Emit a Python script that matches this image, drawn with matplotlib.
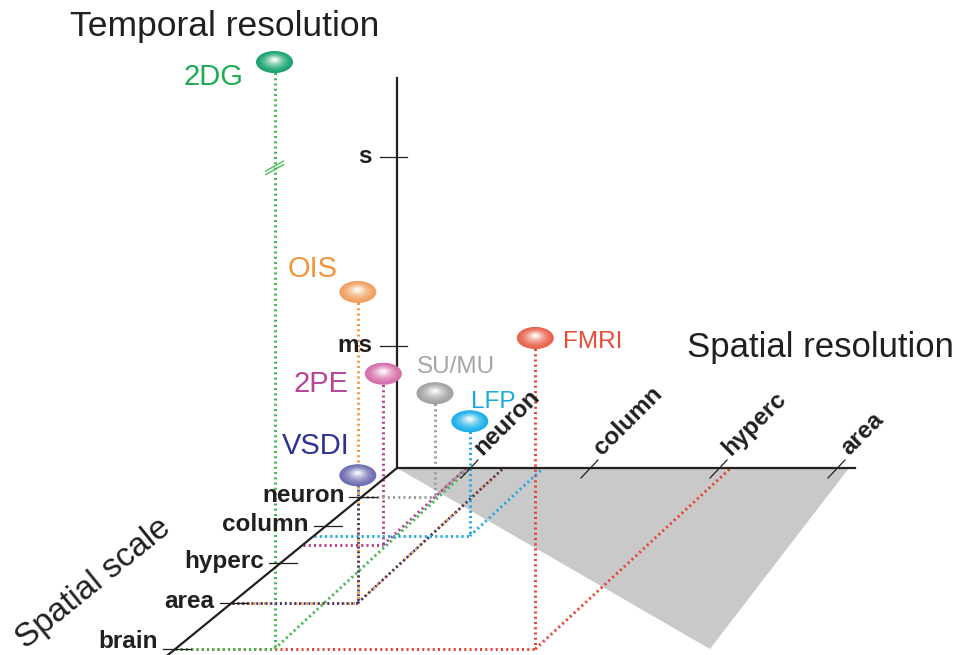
import numpy as np
import matplotlib
matplotlib.use('Agg')
import matplotlib.pyplot as plt
from matplotlib.patches import Ellipse, Polygon
from matplotlib.colors import to_rgb

plt.rcParams['font.family'] = ['Liberation Sans', 'DejaVu Sans']

#---------------------------- DATA (axis levels) ----------------------------
# spatial resolution axis: levels 1..4, spatial scale axis: levels 1..5, temporal: levels 1..2
res_labels = ['neuron', 'column', 'hyperc', 'area']
scale_labels = ['neuron', 'column', 'hyperc', 'area', 'brain']
time_labels = ['ms', 's']

techniques = ['2DG', 'OIS', '2PE', 'VSDI', 'SU/MU', 'LFP', 'FMRI']
res_level = [1.0, 1.28, 0.95, 1.28, 0.95, 1.61, 3.1]
scale_level = [5.0, 4.0, 2.51, 4.0, 1.0, 2.27, 5.0]
time_level = [3.46, 2.0, 1.26, 1.03, 0.85, 0.94, 2.0]

line_colors = ['#3dba4e', '#f39a3c', '#b83c94', '#2f2c7e', '#9b9b9b', '#1aa9e1', '#e8402f']
text_colors = ['#1dac52', '#f5943a', '#b8459a', '#2e3192', '#a5a5a5', '#1aa9e1', '#e84a36']
bubble_colors = ['#1aa36e', '#f0a060', '#d66faa', '#6d6db2', '#a3a3a3', '#1ab0ea', '#e8644c']

#---------------------------- LAYOUT / PROJECTION ----------------------------
ORIGIN = (397, 468)
RES_PX = [0, 73, 193, 322, 440, 560]        # px along horizontal axis for levels 0..5
SCALE_PX = [0, 29, 58, 95, 135, 181, 235]   # px depth for levels 0..6
TIME_PX = [0, 122, 311, 500, 689]           # px height for levels 0..4
K_AXIS = 1.225    # x shift per px depth, drawn scale axis
K_FLOOR = 1.08    # x shift per px depth, floor guide lines
INK = '#231f20'

# label placement relative to bubble: (dx, dy, ha, fontsize)
label_pos = {'2DG': (-31, 23, 'right', 21), 'OIS': (-20, -15, 'right', 21),
             '2PE': (-35, 18, 'right', 21), 'VSDI': (-8, -21, 'right', 21),
             'SU/MU': (-18, -20, 'left', 17.5), 'LFP': (1, -13, 'left', 17.5),
             'FMRI': (28, 10, 'left', 17.5)}


def rpx(r):
    return np.interp(r, range(len(RES_PX)), RES_PX)


def spx(s):
    return np.interp(s, range(len(SCALE_PX)), SCALE_PX)


def tpx(t):
    return np.interp(t, range(len(TIME_PX)), TIME_PX)


def floor_pt(r, s):
    return ORIGIN[0] + rpx(r) - K_FLOOR * spx(s), ORIGIN[1] + spx(s)


def res_axis_pt(r):
    return ORIGIN[0] + rpx(r), ORIGIN[1]


def scale_axis_pt(s):
    return ORIGIN[0] - K_AXIS * spx(s), ORIGIN[1] + spx(s)


def bubble(ax, x, y, color, w=37, h=22, n=24):
    base = np.array(to_rgb(color))
    for i in range(n):
        t = i / (n - 1)
        a = 0.92 * t ** 1.6
        c = base * (1 - a) + a
        ax.add_patch(Ellipse((x, y - 2.5 * t), w * (1 - 0.88 * t), h * (1 - 0.88 * t),
                             facecolor=c, edgecolor='none', zorder=6))


fig = plt.figure(figsize=(9.6, 6.55), dpi=100)
ax = fig.add_axes([0, 0, 1, 1])
ax.set_xlim(0, 960)
ax.set_ylim(655, 0)
ax.axis('off')

# grey floor shading
shade_r = [0, 4.1, 4.57]
shade_s = [0, 0, 5]
shade = [floor_pt(r, s) for r, s in zip(shade_r, shade_s)]
ax.add_patch(Polygon(shade, closed=True, facecolor='#c9c9c9', edgecolor='none', zorder=1))

# dotted guide lines of each technique
dots = (0, (0.7, 1.1))
draw_z = {'FMRI': 2.0}
for i, name in enumerate(techniques):
    fx, fy = floor_pt(res_level[i], scale_level[i])
    by = fy - tpx(time_level[i])
    sx, sy = scale_axis_pt(scale_level[i])
    rx, ry = res_axis_pt(res_level[i])
    z = draw_z.get(name, 2.1 + 0.01 * i)
    lw = 1.9 if name == 'VSDI' else 2.1
    kw = dict(color=line_colors[i], lw=lw, linestyle=dots, zorder=z)
    ax.plot([fx, fx], [by, fy], **kw)
    ax.plot([sx, fx], [sy, fy], **kw)
    ax.plot([fx, rx], [fy, ry], **kw)
    bubble(ax, fx, by, bubble_colors[i])
    dx, dy, ha, fs = label_pos[name]
    ax.text(fx + dx, by + dy, name, color=text_colors[i], fontsize=fs,
            ha=ha, va='baseline', zorder=7)
    if name == '2DG':
        # axis break mark on the 2DG line
        yb = fy - tpx(2.9)
        for off in (-1.8, 1.8):
            ax.plot([fx - 9, fx + 9], [yb + off + 5, yb + off - 5], color=line_colors[i],
                    lw=0.9, zorder=z + 0.01)

# axes
ax.plot([ORIGIN[0], ORIGIN[0]], [ORIGIN[1], ORIGIN[1] - tpx(2.42)], color=INK, lw=1.6, zorder=4)
ex, ey = res_axis_pt(4.15)
ax.plot([ORIGIN[0], ex], [ORIGIN[1], ey], color=INK, lw=1.6, zorder=4)
dx_, dy_ = scale_axis_pt(5.15)
ax.plot([ORIGIN[0], dx_], [ORIGIN[1], dy_], color=INK, lw=1.6, zorder=4)

# spatial resolution ticks
for k, lab in enumerate(res_labels):
    x, y = res_axis_pt(k + 1)
    ax.plot([x - 9, x + 8], [y + 10, y - 8], color=INK, lw=0.9, zorder=4)
    ax.text(x + 12, y - 12, lab, rotation=45, rotation_mode='anchor', ha='left',
            va='baseline', fontsize=17.5, fontweight='bold', color=INK, zorder=7)

# spatial scale ticks
for k, lab in enumerate(scale_labels):
    x, y = scale_axis_pt(k + 1)
    ax.plot([x - 12, x + 16], [y, y], color=INK, lw=0.9, zorder=4)
    ax.text(x - 17, min(y + 5, 648), lab, ha='right', va='baseline', fontsize=17.5,
            fontweight='bold', color=INK, zorder=7)

# temporal ticks
for k, lab in enumerate(time_labels):
    y = ORIGIN[1] - tpx(k + 1)
    ax.plot([ORIGIN[0] - 17, ORIGIN[0] + 10], [y, y], color=INK, lw=0.9, zorder=4)
    ax.text(ORIGIN[0] - 25, y + 6, lab, ha='right', va='baseline', fontsize=17.5,
            fontweight='bold', color=INK, zorder=7)

# axis titles
ax.text(70, 36, 'Temporal resolution', fontsize=25.5, color=INK, ha='left', va='baseline')
ax.text(687, 357, 'Spatial resolution', fontsize=25, color=INK, ha='left', va='baseline')
ax.text(26, 650, 'Spatial scale', fontsize=24, color=INK, rotation=39,
        rotation_mode='anchor', ha='left', va='baseline')

plt.savefig('out.png', dpi=100)
